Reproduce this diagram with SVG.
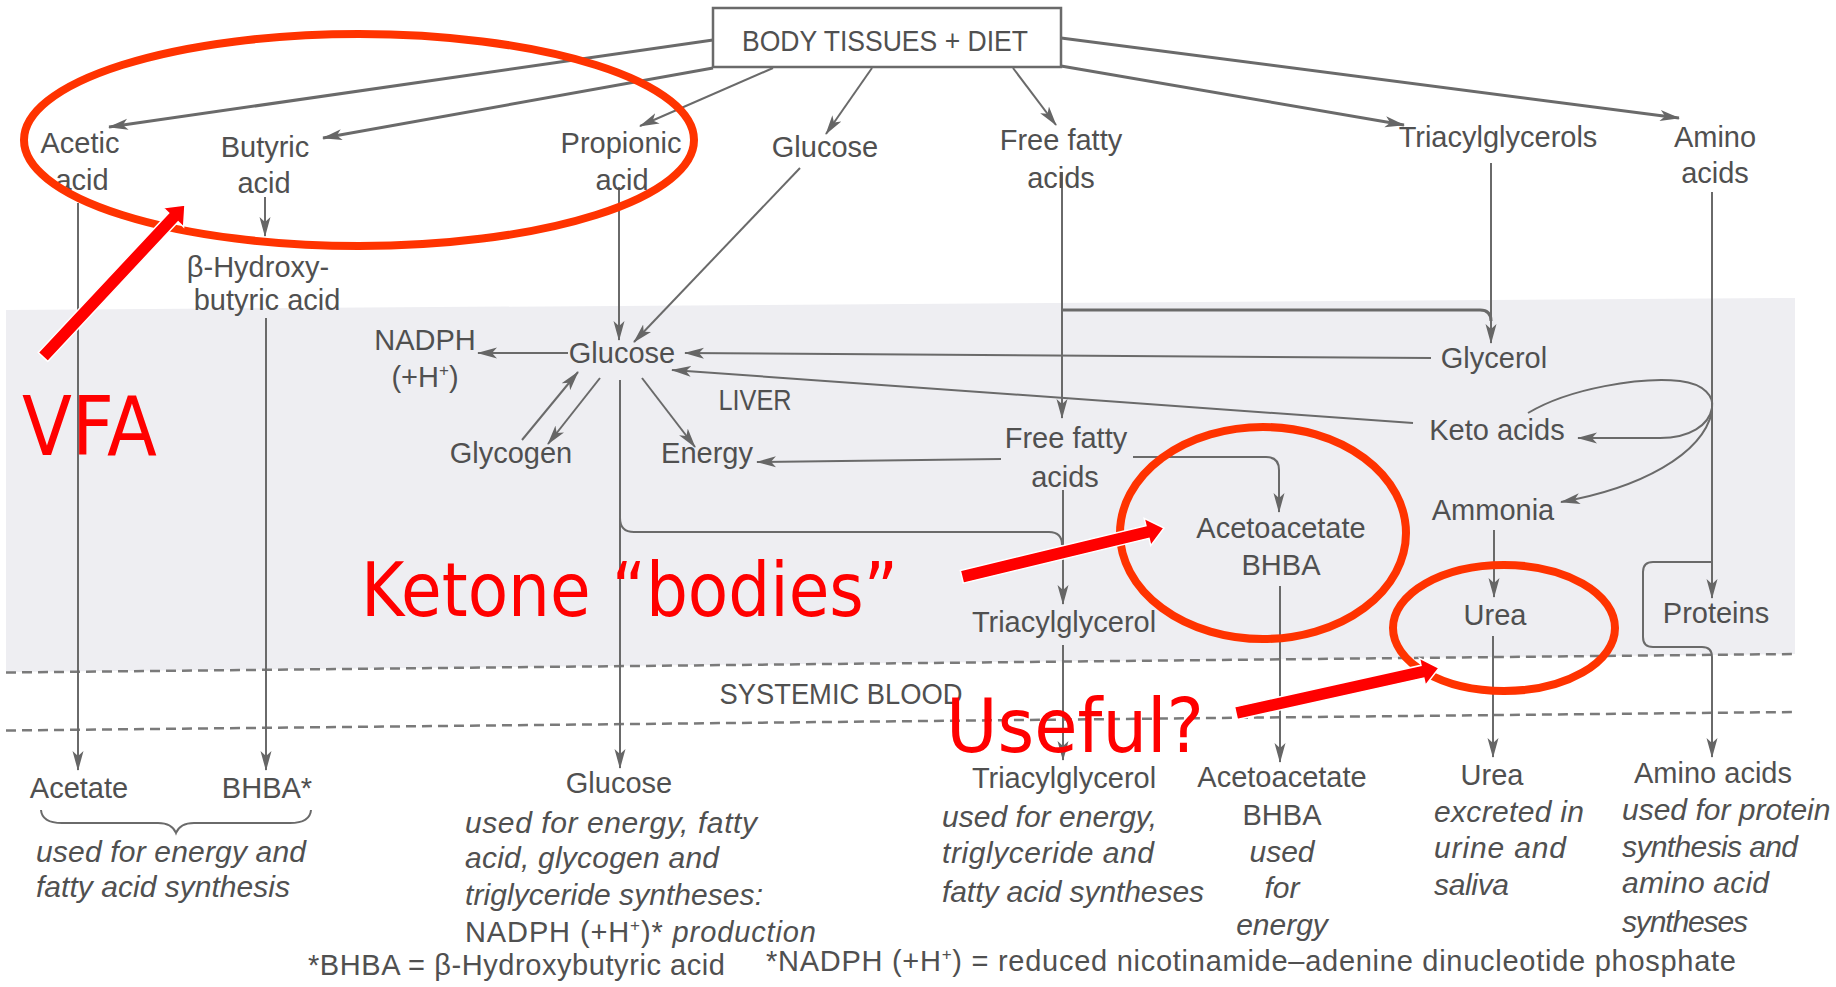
<svg xmlns="http://www.w3.org/2000/svg" width="1836" height="987" viewBox="0 0 1836 987">
<style>
.t{font-family:"Liberation Sans",Arial,sans-serif;font-size:29px;fill:#505050;text-anchor:middle}
.s{text-anchor:start}
.i{font-style:italic;font-size:30px;text-anchor:start}
.c{fill:none;stroke:#6a6a6a;stroke-width:2}
.ct{fill:none;stroke:#6a6a6a;stroke-width:3}
.d{fill:none;stroke:#7a7a7a;stroke-width:2.5;stroke-dasharray:10 6}
.e{fill:none;stroke:#ff3300;stroke-width:8}
.ra{fill:#ff0000;stroke:#ffffff;stroke-width:1.5}
.rt{font-family:"Comic Sans MS","DejaVu Sans",sans-serif;fill:#ff0000}
</style>
<defs>
<marker id="ah" markerUnits="userSpaceOnUse" markerWidth="20" markerHeight="12" refX="19" refY="6" orient="auto"><path d="M0,0.5 L20,6 L0,11.5 L5,6 z" fill="#666"/></marker>
<polygon id="redArrow" points="-208,-6.5 -17,-6.5 -17,-14 0,0 -17,14 -17,6.5 -208,6.5"/>
</defs>
<rect x="0" y="0" width="1836" height="987" fill="#ffffff"/>
<polygon points="6,310 1795,298 1795,654 6,672" fill="#eeeef2"/>
<g id="region-lines">
<line class="d" x1="6" y1="672.5" x2="1794" y2="654"/>
<line class="d" x1="6" y1="730.5" x2="1794" y2="712"/>
</g>
<g id="connectors">
<line class="ct" x1="713" y1="40" x2="109" y2="127" marker-end="url(#ah)"/>
<line class="ct" x1="713" y1="68" x2="323" y2="138" marker-end="url(#ah)"/>
<line class="c" x1="773" y1="68" x2="640" y2="126" marker-end="url(#ah)"/>
<line class="c" x1="872" y1="68" x2="826" y2="134" marker-end="url(#ah)"/>
<line class="c" x1="1013" y1="68" x2="1056" y2="125" marker-end="url(#ah)"/>
<line class="ct" x1="1061" y1="66" x2="1404" y2="125" marker-end="url(#ah)"/>
<line class="ct" x1="1061" y1="38" x2="1679" y2="118" marker-end="url(#ah)"/>
<line class="c" x1="78" y1="203" x2="78" y2="770" marker-end="url(#ah)"/>
<line class="c" x1="265" y1="197" x2="265" y2="236" marker-end="url(#ah)"/>
<line class="c" x1="266" y1="318" x2="266" y2="770" marker-end="url(#ah)"/>
<line class="c" x1="619" y1="187" x2="619" y2="340" marker-end="url(#ah)"/>
<line class="c" x1="800" y1="168" x2="634" y2="342" marker-end="url(#ah)"/>
<line class="c" x1="568" y1="353" x2="478" y2="353" marker-end="url(#ah)"/>
<line class="c" x1="522" y1="440" x2="578" y2="372" marker-end="url(#ah)"/>
<line class="c" x1="600" y1="378" x2="548" y2="444" marker-end="url(#ah)"/>
<line class="c" x1="642" y1="378" x2="695" y2="447" marker-end="url(#ah)"/>
<line class="c" x1="620" y1="380" x2="620" y2="768" marker-end="url(#ah)"/>
<path class="c" d="M620,518 Q620,532 634,532 L1049,532 Q1062,532 1062,545"/>
<line class="c" x1="1431" y1="358" x2="685" y2="353" marker-end="url(#ah)"/>
<line class="c" x1="1413" y1="423" x2="672" y2="370" marker-end="url(#ah)"/>
<line class="c" x1="1062" y1="172" x2="1062" y2="418" marker-end="url(#ah)"/>
<path class="ct" d="M1062,310 L1480,310 Q1491,310 1491,321"/>
<line class="c" x1="1491" y1="163" x2="1491" y2="343" marker-end="url(#ah)"/>
<line class="c" x1="1001" y1="459" x2="757" y2="462" marker-end="url(#ah)"/>
<path class="c" d="M1133,457 L1266,457 Q1279,457 1279,470 L1279,512" marker-end="url(#ah)"/>
<line class="c" x1="1063" y1="490" x2="1063" y2="604" marker-end="url(#ah)"/>
<line class="c" x1="1063" y1="645" x2="1063" y2="760" marker-end="url(#ah)"/>
<line class="c" x1="1280" y1="586" x2="1280" y2="762" marker-end="url(#ah)"/>
<line class="c" x1="1712" y1="192" x2="1712" y2="598" marker-end="url(#ah)"/>
<path class="c" d="M1528,413 C1570,388 1640,377 1680,381 C1705,384 1714,397 1712,408 C1709,425 1690,438 1660,438 L1578,438" marker-end="url(#ah)"/>
<path class="c" d="M1712,412 C1702,455 1640,488 1561,502" marker-end="url(#ah)"/>
<line class="c" x1="1494" y1="530" x2="1494" y2="597" marker-end="url(#ah)"/>
<line class="c" x1="1493" y1="636" x2="1493" y2="757" marker-end="url(#ah)"/>
<path class="c" d="M1712,562 L1653,562 Q1643,562 1643,572 L1643,637 Q1643,647 1653,647 L1702,647 Q1712,647 1712,657 L1712,757" marker-end="url(#ah)"/>
<path class="c" d="M41,810 Q42,823 62,823 L158,823 Q172,823 176,833 Q180,823 194,823 L290,823 Q310,823 311,810"/>
</g>
<g id="node-body">
<rect x="713" y="8" width="348" height="59" fill="#ffffff" stroke="#6a6a6a" stroke-width="2.5"/>
<text class="t" x="885" y="51" font-size="31" textLength="286" lengthAdjust="spacingAndGlyphs">BODY TISSUES + DIET</text>
</g>
<g id="node-acetic"><text class="t" x="80" y="153">Acetic</text><text class="t" x="82" y="190">acid</text></g>
<g id="node-butyric"><text class="t" x="265" y="157">Butyric</text><text class="t" x="264" y="193">acid</text></g>
<g id="node-propionic"><text class="t" x="621" y="153">Propionic</text><text class="t" x="622" y="190">acid</text></g>
<g id="node-glucose-top"><text class="t" x="825" y="157">Glucose</text></g>
<g id="node-ffa-top"><text class="t" x="1061" y="150">Free fatty</text><text class="t" x="1061" y="188">acids</text></g>
<g id="node-tag-top"><text class="t" x="1498" y="147">Triacylglycerols</text></g>
<g id="node-amino-top"><text class="t" x="1715" y="147">Amino</text><text class="t" x="1715" y="183">acids</text></g>
<g id="node-bhb"><text class="t" x="258" y="277">β-Hydroxy-</text><text class="t" x="267" y="310">butyric acid</text></g>
<g id="node-nadph"><text class="t" x="425" y="350" font-size="28">NADPH</text><text class="t" x="425" y="387" font-size="28">(+H<tspan font-size="17" dy="-11">+</tspan><tspan dy="11">)</tspan></text></g>
<g id="node-glucose-liver"><text class="t" x="622" y="363">Glucose</text></g>
<g id="label-liver"><text class="t" x="755" y="410" font-size="28" textLength="73" lengthAdjust="spacingAndGlyphs">LIVER</text></g>
<g id="node-glycogen"><text class="t" x="511" y="463">Glycogen</text></g>
<g id="node-energy"><text class="t" x="707" y="463">Energy</text></g>
<g id="node-glycerol"><text class="t" x="1494" y="368">Glycerol</text></g>
<g id="node-keto"><text class="t" x="1497" y="440">Keto acids</text></g>
<g id="node-ffa-liver"><text class="t" x="1066" y="448">Free fatty</text><text class="t" x="1065" y="487">acids</text></g>
<g id="node-ketone"><text class="t" x="1281" y="538">Acetoacetate</text><text class="t" x="1281" y="575">BHBA</text></g>
<g id="node-ammonia"><text class="t" x="1493" y="520">Ammonia</text></g>
<g id="node-urea"><text class="t" x="1495" y="625">Urea</text></g>
<g id="node-proteins"><text class="t" x="1716" y="623">Proteins</text></g>
<g id="node-tag-liver"><text class="t" x="1064" y="632">Triacylglycerol</text></g>
<g id="label-blood"><text class="t" x="841" y="704" font-size="28" textLength="243" lengthAdjust="spacingAndGlyphs">SYSTEMIC BLOOD</text></g>
<g id="node-acetate"><text class="t" x="79" y="798">Acetate</text><text class="t" x="267" y="798">BHBA*</text>
<text class="t i" x="36" y="862" textLength="270">used for energy and</text>
<text class="t i" x="36" y="897" textLength="254">fatty acid synthesis</text></g>
<g id="node-glucose-blood"><text class="t" x="619" y="793">Glucose</text>
<text class="t i" x="465" y="833" textLength="292">used for energy, fatty</text>
<text class="t i" x="465" y="868" textLength="254">acid, glycogen and</text>
<text class="t i" x="465" y="905" textLength="298">triglyceride syntheses:</text>
<text class="t s" x="465" y="942" font-size="30" textLength="351">NADPH (+H<tspan font-size="17" dy="-11">+</tspan><tspan dy="11">)* </tspan><tspan font-style="italic">production</tspan></text></g>
<g id="node-tag-blood"><text class="t" x="1064" y="788">Triacylglycerol</text>
<text class="t i" x="942" y="827" textLength="215">used for energy,</text>
<text class="t i" x="942" y="863" textLength="212">triglyceride and</text>
<text class="t i" x="942" y="902" textLength="262">fatty acid syntheses</text></g>
<g id="node-ketone-blood"><text class="t" x="1282" y="787">Acetoacetate</text><text class="t" x="1282" y="825">BHBA</text>
<text class="t i" x="1282" y="862" text-anchor="middle" style="text-anchor:middle">used</text>
<text class="t i" x="1282" y="898" style="text-anchor:middle">for</text>
<text class="t i" x="1282" y="935" style="text-anchor:middle">energy</text></g>
<g id="node-urea-blood"><text class="t" x="1492" y="785">Urea</text>
<text class="t i" x="1434" y="822" textLength="150">excreted in</text>
<text class="t i" x="1434" y="858" textLength="132">urine and</text>
<text class="t i" x="1434" y="895" textLength="75">saliva</text></g>
<g id="node-amino-blood"><text class="t" x="1713" y="783">Amino acids</text>
<text class="t i" x="1622" y="820">used for protein</text>
<text class="t i" x="1622" y="857" textLength="176">synthesis and</text>
<text class="t i" x="1622" y="893" textLength="147">amino acid</text>
<text class="t i" x="1622" y="932" textLength="126">syntheses</text></g>
<g id="footnotes">
<text class="t s" x="308" y="975" font-size="30" textLength="417">*BHBA = β-Hydroxybutyric acid</text>
<text class="t s" x="766" y="971" font-size="30" textLength="970">*NADPH (+H<tspan font-size="17" dy="-11">+</tspan><tspan dy="11">) = reduced nicotinamide–adenine dinucleotide phosphate</tspan></text>
</g>
<g id="annotations">
<ellipse class="e" cx="359" cy="140" rx="335" ry="106"/>
<ellipse class="e" cx="1263" cy="533" rx="143" ry="106"/>
<ellipse class="e" cx="1504" cy="628" rx="111" ry="63"/>
<use href="#redArrow" class="ra" transform="translate(185,205) rotate(-46.94)"/>
<use href="#redArrow" class="ra" transform="translate(1164,528) rotate(-13.57)"/>
<use href="#redArrow" class="ra" transform="translate(1439,668) rotate(-12.56)"/>
<text class="rt" x="22" y="455" font-size="82" textLength="135" lengthAdjust="spacingAndGlyphs">VFA</text>
<text class="rt" x="361" y="616" font-size="74" textLength="537" lengthAdjust="spacingAndGlyphs">Ketone “bodies”</text>
<text class="rt" x="946" y="752" font-size="74" textLength="258" lengthAdjust="spacingAndGlyphs">Useful?</text>
</g>
</svg>
